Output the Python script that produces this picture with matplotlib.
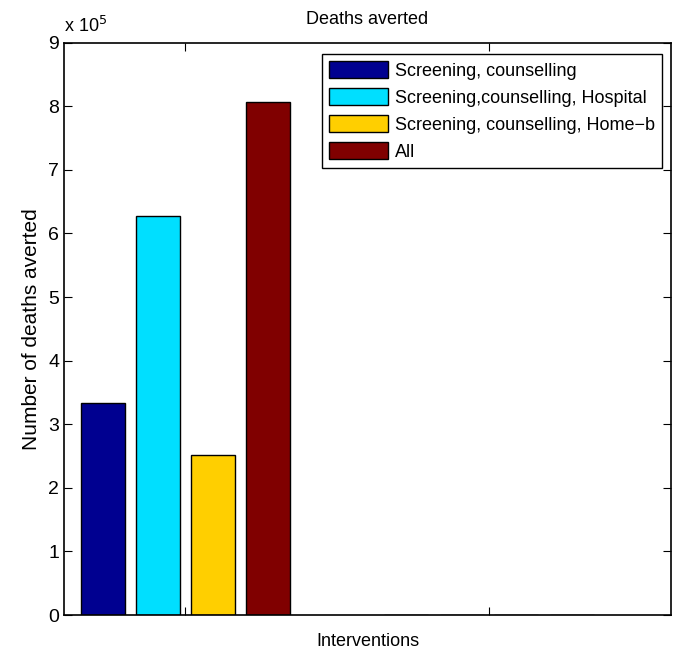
import numpy as np
import matplotlib.pyplot as plt
from matplotlib.ticker import FuncFormatter

plt.rcParams['font.family'] = ['Liberation Sans', 'DejaVu Sans']

series = ['Screening, counselling', 'Screening,counselling, Hospital',
          'Screening, counselling, Home\u2212b', 'All']
colors = ['#000090', '#00DFFF', '#FFCF00', '#800000']
groups = [1, 2]
deaths = [[333000, 0],
          [628000, 0],
          [252000, 0],
          [806000, 0]]

fig = plt.figure(figsize=(6.74, 6.52), dpi=100)
ax = fig.add_axes([0.095, 0.0567, 0.9005, 0.878])

offsets = [-0.273, -0.09, 0.09, 0.273]
w = 0.145
x = np.array(groups)
for i, name in enumerate(series):
    ax.bar(x + offsets[i], deaths[i], width=w, color=colors[i],
           edgecolor='black', linewidth=1.0, label=name, zorder=2)

ax.set_xlim(0.6, 2.6)
ax.set_ylim(0, 9e5)
ax.set_xticks(groups)
ax.set_xticklabels([])
ax.set_yticks(np.arange(0, 10) * 1e5)
ax.yaxis.set_major_formatter(FuncFormatter(lambda v, p: '%d' % round(v / 1e5)))
ax.tick_params(direction='in', length=6, width=0.8, top=True, right=True,
               labelsize=14)
for s in ax.spines.values():
    s.set_linewidth(1.2)

ax.text(0.0, 1.012, r'x 10$^5$', transform=ax.transAxes, fontsize=13,
        ha='left', va='bottom')
ax.set_title('Deaths averted', fontsize=13, pad=13.5)
ax.set_xlabel('Interventions', fontsize=13, labelpad=9.5)
ax.set_ylabel('Number of deaths averted', fontsize=15, labelpad=5)

leg = ax.legend(loc='upper right', bbox_to_anchor=(0.985, 0.98),
                borderaxespad=0, fancybox=False, framealpha=1,
                edgecolor='black', fontsize=13, handlelength=3.3,
                handleheight=1.05, labelspacing=0.47, handletextpad=0.35,
                borderpad=0.4)
leg.get_frame().set_linewidth(1.0)

fig.savefig('out.png', dpi=100)
